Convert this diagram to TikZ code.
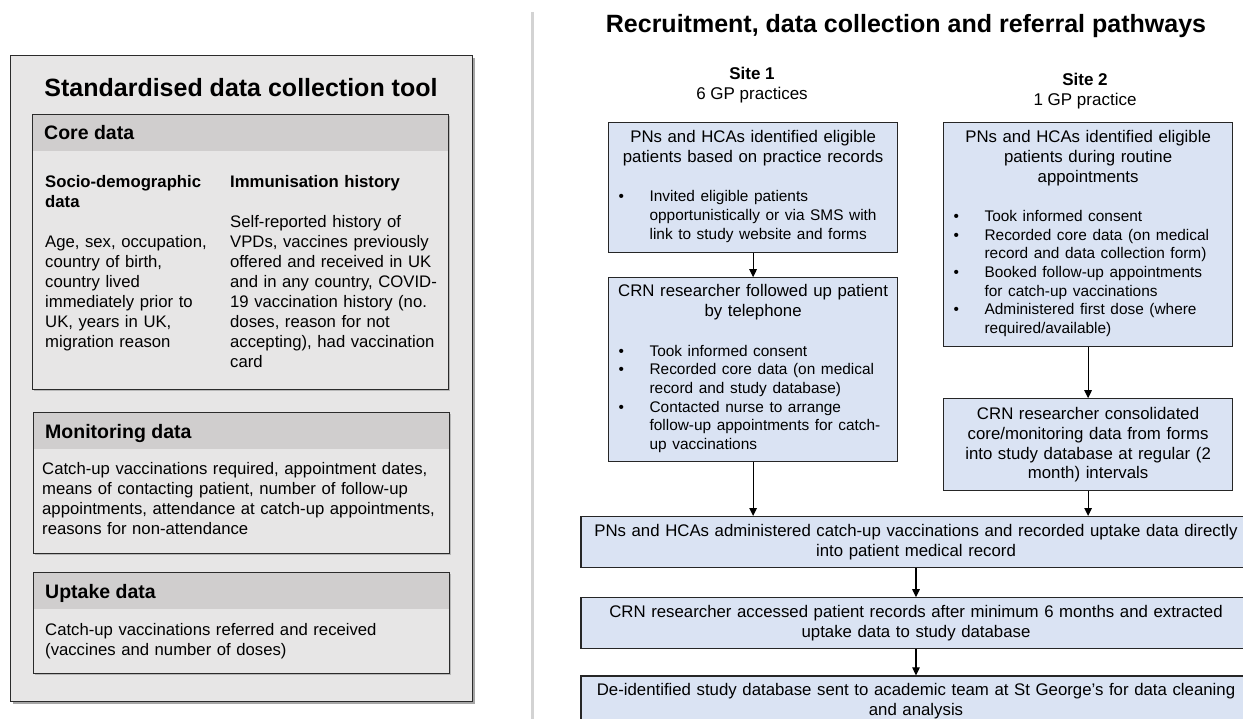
\documentclass[tikz,border=0pt]{standalone}
\usepackage{fontspec}
\setmainfont{Liberation Sans}
\usetikzlibrary{arrows.meta,positioning,shadows}
\definecolor{dcpanel}{HTML}{E7E6E6}
\definecolor{dchead}{HTML}{D0CECE}
\definecolor{dcline}{HTML}{2B2B2B}
\definecolor{pwfill}{HTML}{DAE3F3}
\definecolor{pwline}{HTML}{262626}
\definecolor{pwrule}{HTML}{D3D3D3}
\newcommand{\titlefont}{\fontsize{25}{30}\selectfont\bfseries}
\newcommand{\headfont}{\fontsize{19.5}{23}\selectfont\bfseries}
\newcommand{\bodyfont}{\fontsize{16.7}{20}\selectfont}
\newcommand{\flowfont}{\fontsize{16.8}{19.8}\selectfont}
\newcommand{\bulfont}{\fontsize{15.4}{18.6}\selectfont}
\newcommand{\sitefont}{\fontsize{17}{19.5}\selectfont}
% bullet list inside a pathway box
\newenvironment{pwlist}{\par\vspace{21pt}\bulfont\noindent\begin{tabular}[t]{@{\hspace{6pt}}p{31pt}@{}l@{}}}{\end{tabular}\par}
\tikzset{
  toolpanel/.style={draw=dcline,line width=1.2pt,fill=dcpanel,anchor=north west,inner sep=0pt,
              drop shadow={shadow xshift=2.5pt,shadow yshift=-2.5pt,opacity=0.35,fill=black}},
  secbox/.style={draw=dcline,line width=1.2pt,fill=dcpanel,anchor=north west,inner sep=0pt,
              minimum width=416pt,
              path picture={\fill[dchead] (path picture bounding box.north west) rectangle
                ([yshift=-36pt]path picture bounding box.north east);},
              drop shadow={shadow xshift=1.5pt,shadow yshift=-1.5pt,opacity=0.2,fill=black}},
  sechead/.style={font=\headfont,inner sep=0pt},
  colbody/.style={font=\bodyfont,align=left,inner sep=0pt},
  sitelab/.style={font=\sitefont,align=center,inner sep=0pt},
  pwbox/.style={draw=pwline,line width=1.2pt,fill=pwfill,font=\flowfont,
              inner xsep=4pt,inner ysep=0pt},
  flow/.style={-{Triangle[length=8pt,width=7.5pt]},line width=1.1pt,draw=black},
}

\begin{document}
\begin{tikzpicture}[x=1pt,y=-1pt]
  \useasboundingbox (0,0) rectangle (1243,719);
  \clip (0,0) rectangle (1243,719);

  % ---- data collection tool ----
  \node[toolpanel,minimum width=462pt,minimum height=646pt] (toolPanel) at (10,55) {};
  \node[font=\titlefont,anchor=base] (toolTitle) at (241,97) {Standardised data collection tool};

  \node[secbox,minimum height=275pt] (coreSec) at (32,114) {};
  \node[sechead,anchor=base west] (coreHead) at (44,140) {Core data};
  \node[colbody,anchor=north west,text width=180pt] (socioCol) at (45,173)
    {\strut\textbf{Socio-demographic}\\ \textbf{data}\\[20pt]Age, sex, occupation,\\ country of birth,\\
     country lived\\ immediately prior to\\ UK, years in UK,\\ migration reason};
  \node[colbody,anchor=north west,text width=214pt] (immunCol) at (230,173)
    {\strut\textbf{Immunisation history}\\[20pt]Self-reported history of\\ VPDs, vaccines previously\\
     offered and received in UK\\ and in any country, COVID-\\ 19 vaccination history (no.\\
     doses, reason for not\\ accepting), had vaccination\\ card};

  \node[secbox,minimum height=141pt] (monSec) at (33,412) {};
  \node[sechead,anchor=base west] (monHead) at (45,438) {Monitoring data};
  \node[colbody,anchor=north west,text width=404pt] (monBody) at (42,460)
    {\strut Catch-up vaccinations required, appointment dates,\\ means of contacting patient, number of follow-up\\
     appointments, attendance at catch-up appointments,\\ reasons for non-attendance};

  \node[secbox,minimum height=101pt] (upSec) at (33,572) {};
  \node[sechead,anchor=base west] (upHead) at (45,598) {Uptake data};
  \node[colbody,anchor=north west,text width=400pt] (upBody) at (45,621)
    {\strut Catch-up vaccinations referred and received\\ (vaccines and number of doses)};

  \draw[pwrule,line width=3pt] (532,12) -- (532,719);

  % ---- pathways ----
  \node[font=\titlefont,anchor=base] (pathTitle) at (906,33) {Recruitment, data collection and referral pathways};
  \node[sitelab,anchor=north] (siteOne) at (752,66) {\strut\textbf{Site 1}\\6 GP practices};
  \node[sitelab,anchor=north] (siteTwo) at (1085,72) {\strut\textbf{Site 2}\\1 GP practice};

  \node[pwbox,text width=281pt,minimum height=130pt,anchor=north west] (siteOneFind) at (608,122)
    {{\centering PNs and HCAs identified eligible\\ patients based on practice records\par}
     \begin{pwlist}
     \textbullet & Invited eligible patients\\
                 & opportunistically or via SMS with\\
                 & link to study website and forms
     \end{pwlist}};
  \node[pwbox,text width=281pt,minimum height=184pt,below=24pt of siteOneFind] (siteOneCall)
    {{\centering CRN researcher followed up patient\\ by telephone\par}
     \begin{pwlist}
     \textbullet & Took informed consent\\
     \textbullet & Recorded core data (on medical\\
                 & record and study database)\\
     \textbullet & Contacted nurse to arrange\\
                 & follow-up appointments for catch-\\
                 & up vaccinations
     \end{pwlist}};

  \node[pwbox,text width=281pt,minimum height=224pt,anchor=north west] (siteTwoFind) at (943,122)
    {{\centering PNs and HCAs identified eligible\\ patients during routine\\ appointments\par}
     \begin{pwlist}
     \textbullet & Took informed consent\\
     \textbullet & Recorded core data (on medical\\
                 & record and data collection form)\\
     \textbullet & Booked follow-up appointments\\
                 & for catch-up vaccinations\\
     \textbullet & Administered first dose (where\\
                 & required/available)
     \end{pwlist}};
  \node[pwbox,text width=281pt,minimum height=92pt,align=center,below=51pt of siteTwoFind] (siteTwoMerge)
    {CRN researcher consolidated\\ core/monitoring data from forms\\ into study database at regular (2\\ month) intervals};

  \node[pwbox,text width=662pt,minimum height=51pt,align=center,anchor=north] (administer) at (916,516)
    {PNs and HCAs administered catch-up vaccinations and recorded uptake data directly\\ into patient medical record};
  \node[pwbox,text width=662pt,minimum height=51pt,align=center,below=29pt of administer] (extract)
    {CRN researcher accessed patient records after minimum 6 months and extracted\\ uptake data to study database};
  \node[pwbox,text width=662pt,minimum height=51pt,align=center,below=26pt of extract] (handover)
    {De-identified study database sent to academic team at St George’s for data cleaning\\ and analysis};

  % ---- flows ----
  \draw[flow] (siteOneFind) -- (siteOneCall);
  \draw[flow] (siteTwoFind) -- (siteTwoMerge);
  \draw[flow] (siteOneCall.south) -- (siteOneCall.south |- administer.north);
  \draw[flow] (siteTwoMerge.south) -- (siteTwoMerge.south |- administer.north);
  \draw[flow] (administer) -- (extract);
  \draw[flow] (extract) -- (handover);
\end{tikzpicture}
\end{document}
